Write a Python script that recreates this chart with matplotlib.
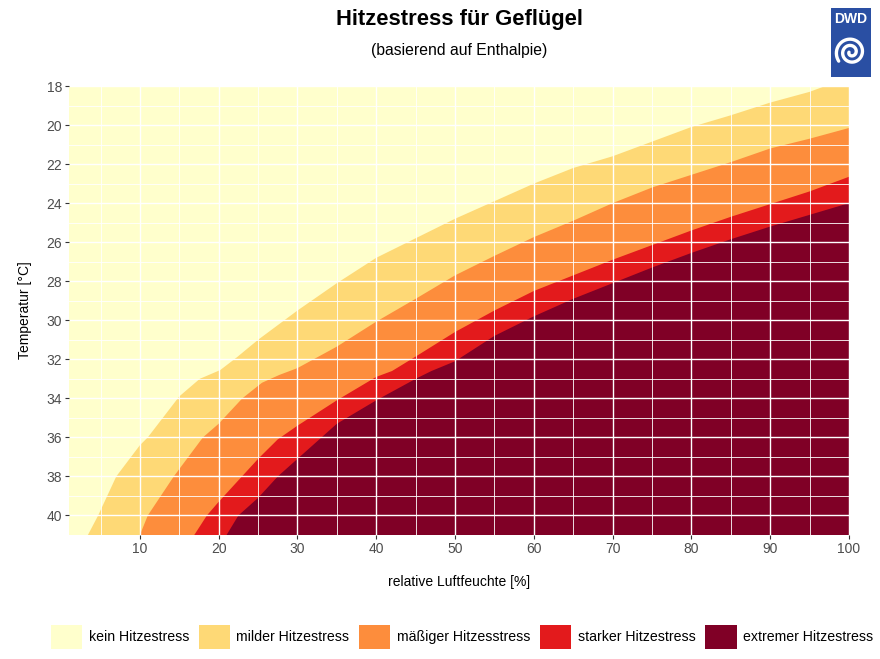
import numpy as np
import matplotlib
matplotlib.use("Agg")
import matplotlib.pyplot as plt
from matplotlib.patches import Patch, Rectangle

plt.rcParams['font.family'] = ['Liberation Sans', 'DejaVu Sans']

# Klassen und Farben
labels = ['kein Hitzestress', 'milder Hitzestress', 'mäßiger Hitzesstress',
          'starker Hitzestress', 'extremer Hitzestress']
colors = ['#FFFFCC', '#FED976', '#FD8D3C', '#E31A1C', '#800026']

b1_rh = [3.4, 4.7, 7.0, 10, 11, 15, 17.6, 20.2, 22.3, 25, 30, 35, 40, 45, 50,
         55, 60, 65, 70, 75, 80, 85, 90, 95, 97]
b1_t = [41, 40, 38, 36.4, 36, 33.9, 33.0, 32.55, 31.9, 31.0, 29.5, 28.1, 26.8,
        25.8, 24.8, 23.9, 23.0, 22.2, 21.6, 20.85, 20.1, 19.5, 18.85, 18.3, 18]

b2_rh = [10, 11, 14.3, 18, 20, 23, 25.5, 27.7, 30, 35, 40, 45, 50, 55, 60, 65,
         70, 75, 80, 85, 90, 95, 100]
b2_t = [41, 40, 38, 36, 35.3, 34, 33.2, 32.8, 32.45, 31.35, 30.07, 28.9, 27.7,
        26.7, 25.74, 24.9, 24.0, 23.2, 22.55, 21.9, 21.2, 20.7, 20.15]

b3_rh = [16.9, 18.5, 20, 22.5, 25, 27.5, 30, 35, 40, 42, 45, 50, 55, 60, 65,
         70, 75, 80, 85, 90, 95, 100]
b3_t = [41, 40, 39.3, 38.2, 37.1, 36.1, 35.4, 34.1, 32.9, 32.6, 31.86, 30.6,
        29.5, 28.5, 27.7, 26.9, 26.15, 25.4, 24.7, 24.05, 23.4, 22.65]

b4_rh = [21, 22.5, 25, 27.5, 30, 32.5, 35, 40, 45, 47, 50, 55, 60, 65, 70, 75,
         80, 85, 90, 95, 100]
b4_t = [41, 40, 39.1, 38, 37.1, 36.2, 35.3, 34.1, 33.0, 32.6, 32.1, 30.8, 29.8,
        28.9, 28.1, 27.3, 26.55, 25.85, 25.2, 24.6, 24.0]

boundaries = [(b1_rh, b1_t), (b2_rh, b2_t), (b3_rh, b3_t), (b4_rh, b4_t)]

x_lo, x_hi = 1, 100
t_lo, t_hi = 18, 41

fig = plt.figure(figsize=(8.8, 6.59), dpi=100)
ax = fig.add_axes([69/880, 1-535/659, 780/880, 449/659])
ax.set_facecolor(colors[0])

for (rh, t), c in zip(boundaries, colors[1:]):
    xs = list(rh) + [x_hi, x_hi]
    ys = list(t) + [t[-1], t_hi]
    ax.fill(xs, ys, color=c, lw=0, zorder=1)

ax.set_xlim(x_lo, x_hi)
ax.set_ylim(t_hi, t_lo)
ax.set_xticks(np.arange(10, 101, 10))
ax.set_xticks(np.arange(5, 101, 10), minor=True)
ax.set_yticks(np.arange(18, 41, 2))
ax.set_yticks(np.arange(19, 42, 2), minor=True)
ax.set_axisbelow(False)
ax.grid(which='major', color='white', lw=1.0)
ax.grid(which='minor', color='white', lw=0.6)
for s in ax.spines.values():
    s.set_visible(False)
ax.tick_params(which='major', length=3, width=0.8, color='#333333',
               labelsize=10, labelcolor='#4D4D4D', pad=2)
ax.tick_params(which='minor', length=0)

ax.set_xlabel('relative Luftfeuchte [%]', fontsize=10, labelpad=14)
ax.set_ylabel('Temperatur [°C]', fontsize=10, labelpad=10)

fig.text(459/880, 1-20/659, 'Hitzestress für Geflügel', ha='center',
         va='center', fontsize=15.8, fontweight='bold')
fig.text(459/880, 1-51/659, '(basierend auf Enthalpie)', ha='center',
         va='center', fontsize=11.3)

handles = [Patch(facecolor=c, edgecolor='none') for c in colors]
fig.legend(handles, labels, loc='center', bbox_to_anchor=(462/880, 1-637/659),
           ncol=5, frameon=False, fontsize=10.2, handlelength=2.2,
           handleheight=2.2, handletextpad=0.45, columnspacing=0.7,
           borderaxespad=0, borderpad=0)

# DWD Logo
lax = fig.add_axes([831/880, 1-77/659, 40/880, 69/659])
lax.set_xlim(0, 1)
lax.set_ylim(0, 1.725)
lax.set_aspect('equal')
lax.axis('off')
lax.add_patch(Rectangle((0, 0), 1, 1.725, color='#2A4FA3'))
lax.text(0.5, 1.45, 'DWD', ha='center', va='center', color='white',
         fontsize=10, fontweight='bold')
th = np.linspace(0, 4.2*np.pi, 300)
r = 0.05 + 0.33*th/(4.2*np.pi)
lax.plot(0.5 + r*np.cos(th + np.pi), 0.62 + r*np.sin(th + np.pi), color='white',
         lw=2.4, solid_capstyle='round')

fig.savefig('out.png', dpi=100)
